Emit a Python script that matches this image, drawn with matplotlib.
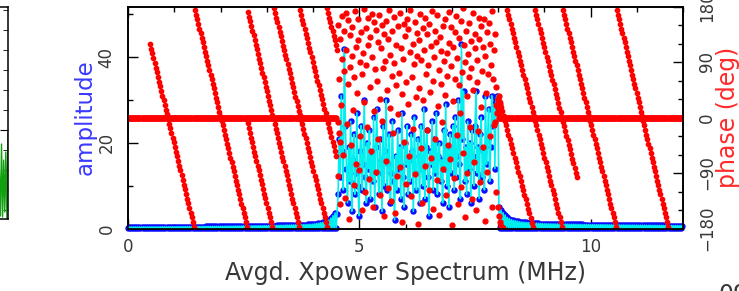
import numpy as np
import matplotlib
matplotlib.use("Agg")
import matplotlib.pyplot as plt
from matplotlib.ticker import MultipleLocator, FixedLocator

# ---------------- data ----------------
chan_step = 0.0225                      # MHz between channels
left_flat_end = 4.50
right_flat_start = 8.02
right_flat_end = 12.0
floor_amp = 0.05                        # alternate channels sit on the floor

env_left_f = [0.0, 1.0, 2.0, 3.0, 3.7, 4.0, 4.2, 4.35, 4.45, 4.50]
env_left_amp = [0.35, 0.4, 0.5, 0.65, 0.85, 1.0, 1.4, 2.0, 3.2, 4.0]
env_right_f = [8.02, 8.1, 8.2, 8.3, 8.5, 9.0, 10.0, 12.0]
env_right_amp = [5.0, 3.8, 2.6, 2.0, 1.5, 1.1, 0.9, 0.65]

noise_f_start, noise_f_end = 4.52, 8.00
amp_noise = [
    3.5, 8, 21, 12, 31, 18, 9, 42, 24, 14,
    6, 19, 11, 25, 4, 16, 22, 8, 13, 27,
    10, 3, 18, 24, 9, 15, 30, 12, 6, 20,
    14, 23, 7, 17, 11, 26, 5, 19, 28, 13,
    8, 21, 16, 4, 24, 10, 18, 30, 9, 15,
    22, 6, 13, 25, 11, 2, 17, 9, 23, 14,
    19, 7, 27, 12, 5, 20, 15, 24, 8, 16,
    11, 22, 18, 4, 26, 13, 9, 21, 17, 6,
    24, 14, 10, 28, 7, 19, 23, 12, 3, 18,
    15, 25, 9, 21, 13, 27, 8, 17, 20, 11,
    16, 6, 23, 14, 29, 10, 19, 5, 22, 13,
    18, 24, 9, 26, 12, 17, 30, 15, 7, 43,
    21, 32, 11, 19, 8, 25, 14, 20, 6, 23,
    17, 10, 24, 32, 13, 19, 7, 22, 26, 12,
    18, 9, 31, 15, 21, 28, 11, 19, 31, 24,
    29, 14, 30, 31, 28]

phase_noise = [
    150, -95, 62, 128, -140, 20, 165, 95, -60, 140, 75, -130, 170, 110, -10, 55, 158, -165, 82, 133,
    -45, 100, 147, 12, -110, 66, 172, 115, -75, 40, 125, 160, -85, 90, -30, 138, 70, -150, 105, 176,
    25, -120, 145, 85, -15, 162, 118, -100, 50, 130, -55, 98, 168, -145, 10, 155, 78, -88, 142, 60,
    -35, 122, 166, 30, -125, 112, 150, -5, 80, -160, 135, 92, -70, 157, 45, -115, 127, 174, 15, 102,
    -135, 68, 140, -25, 88, 163, -155, 52, 118, -95, 148, 5, 72, 170, -80, 113, 38, -170, 95, 152,
    -40, 132, 58, -108, 160, 22, 143, -62, 106, 175, -128, 65, 120, -18, 87, 155, -92, 33, 137, 100,
    -172, 48, 126, 168, -50, 93, -138, 145, 28, 110, -78, 161, 70, -20, 135, 85, -118, 152, 42, -65,
    116, 173, -148, 60, 98, 140, -35, 123, -102, 167, 18, 77, -158, 130, 55, 108, -8, 149, -83, 91,
    36, 159, -126, 104, 68, -45, 171, 121, -68, 84, 146, -175, 27, 114, -98, 62, 138, 164, -28, 97,
    -140, 52, 129, 8, 156, -112, 73, 177, -58, 118, 90, -162, 141, 35, -90, 103, 66, 153, -15, 124,
    80, -132, 169, 44, -72, 136, 112, -150, 58, 94, -22, 162, 128, -105, 17, 149, 76, -48, 115, 160,
    -168, 100, 40, 139, -88, 70, 154, -30, 120, 85, -145, 172, 63, -12, 110, 135, -120, 50, 20, 30]

edge_f = [4.54, 4.56, 4.58, 7.93, 7.95, 7.97, 7.99, 8.00, 8.02, 8.03, 8.05,
          8.00, 8.02, 8.04, 8.07, 8.10]
edge_phase = [-8, -25, -40, -8, 20, 8, 28, 15, 35, 5, 22,
              -145, -160, -170, -176, -179]

# linear phase ramps: (start MHz, start deg, end MHz, end deg)
ramp_f0 = [0.476, 1.449, 2.56, 2.595, 3.157, 3.719, 4.303, 8.04, 8.195, 8.80, 9.405, 10.573]
ramp_p0 = [119, 174, -2, 171, 177, 174, 177, 25, 174, 174, 174, 174]
ramp_f1 = [1.427, 2.573, 3.114, 3.697, 4.303, 4.50, 4.52, 8.757, 9.384, 9.708, 10.551, 11.676]
ramp_p1 = [-177, -177, -177, -177, -177, -62, 110, -178, -177, -97, -177, -177]
ramp_deg_per_dot = 7.5

# partial neighbouring panel (green trace)
green_x = [0.92, 0.93, 0.94, 0.95, 0.96, 0.97, 0.98, 0.99, 1.0]
green_y = [2.0, -0.3, 3.3, -0.35, 2.5, -0.1, 2.9, -0.45, 3.85]

# ---------------- build channel series ----------------
f_left = np.arange(0.0, left_flat_end + 1e-9, chan_step)
f_right = np.arange(right_flat_start, right_flat_end + 1e-9, chan_step)
amp_left = np.where(np.arange(len(f_left)) % 2 == 0, floor_amp,
                    np.interp(f_left, env_left_f, env_left_amp))
amp_right = np.where(np.arange(len(f_right)) % 2 == 1, floor_amp,
                     np.interp(f_right, env_right_f, env_right_amp))
f_noise = np.linspace(noise_f_start, noise_f_end, len(amp_noise))
f_all = np.concatenate([f_left, f_noise, f_right])
amp_all = np.concatenate([amp_left, np.array(amp_noise, float), amp_right])

# ---------------- figure ----------------
W, H = 739, 291
fig = plt.figure(figsize=(W / 100, H / 100), dpi=100)
txt = "#383838"
plt.rcParams["font.family"] = ["DejaVu Sans"]

# neighbouring (cut-off) panel on the far left
ax0 = fig.add_axes([-100 / W, 1 - 219 / H, 108 / W, 212 / H])
ax0.set_xlim(0, 1)
ax0.set_ylim(-0.45, 10.15)
ax0.plot(green_x, green_y, color="#10a010", lw=1.0)
ax0.yaxis.set_major_locator(FixedLocator([4]))
ax0.yaxis.set_minor_locator(MultipleLocator(1))
ax0.tick_params(axis="y", which="both", direction="in", left=False, right=True,
                labelleft=False, labelright=False)
ax0.tick_params(axis="y", which="major", length=6)
ax0.tick_params(axis="y", which="minor", length=3.5)
ax0.set_xticks([])
for s in ax0.spines.values():
    s.set_linewidth(1.1)

# main panel
ax = fig.add_axes([128 / W, 1 - 228.5 / H, 555 / W, 222 / H])
ax.set_xlim(0, 12)
ax.set_ylim(0, 51.8)
ax.plot(f_all, amp_all, ls="none", marker="o", ms=3.6, color="#0a0aff",
        mec="#0a0aff", clip_on=False, zorder=2)
ax.plot(f_all, amp_all, "-", color="#00f0f0", lw=1.2, clip_on=False, zorder=3)

ax2 = ax.twinx()
ax2.set_ylim(-180, 180)
red = "#ff0000"
ms_red = 3.1
ax2.plot(f_left, np.zeros_like(f_left), ls="none", marker="o", ms=3.6, color=red, mec=red)
ax2.plot(f_right, np.zeros_like(f_right), ls="none", marker="o", ms=3.6, color=red, mec=red)
for f0, p0, f1, p1 in zip(ramp_f0, ramp_p0, ramp_f1, ramp_p1):
    n = int(round(abs(p1 - p0) / ramp_deg_per_dot)) + 1
    ax2.plot(np.linspace(f0, f1, n), np.linspace(p0, p1, n), ls="none",
             marker="o", ms=ms_red, color=red, mec=red)
f_pn = np.linspace(noise_f_start + 0.01, noise_f_end - 0.01, len(phase_noise))
ax2.plot(f_pn, phase_noise, ls="none", marker="o", ms=3.5, color=red, mec=red)
ax2.plot(edge_f, edge_phase, ls="none", marker="o", ms=3.5, color=red, mec=red)

# ticks
ax.xaxis.set_major_locator(MultipleLocator(5))
ax.xaxis.set_minor_locator(MultipleLocator(1))
ax.yaxis.set_major_locator(MultipleLocator(20))
ax.yaxis.set_minor_locator(MultipleLocator(10))
ax2.yaxis.set_major_locator(MultipleLocator(90))
ax2.yaxis.set_minor_locator(MultipleLocator(30))
ax.tick_params(axis="both", which="both", direction="in", top=True, right=False,
               width=1.0, colors="black", labelcolor=txt, labelsize=12)
ax.tick_params(which="major", length=7)
ax.tick_params(which="minor", length=3.6)
ax.tick_params(axis="x", pad=7)
ax.tick_params(axis="y", labelrotation=90, pad=9)
ax2.tick_params(axis="y", which="both", direction="in", width=1.0,
                labelcolor=txt, labelsize=12, labelrotation=90, pad=11)
ax2.tick_params(which="major", length=7)
ax2.tick_params(which="minor", length=3.6)
for lab in ax.get_yticklabels() + ax2.get_yticklabels():
    lab.set_verticalalignment("center")
for s in list(ax.spines.values()) + list(ax2.spines.values()):
    s.set_linewidth(1.2)

# axis titles
fig.text(405.5 / W, 1 - 273 / H, "Avgd. Xpower Spectrum (MHz)", ha="center",
         va="center", fontsize=17, color=txt)
fig.text(85 / W, 1 - 117.5 / H, "amplitude", rotation=90, ha="center",
         va="center", fontsize=16.5, color="#3a3aff")
fig.text(728 / W, 1 - 117 / H, "phase (deg)", rotation=90, ha="center",
         va="center", fontsize=17, color="#ff2a2a")
fig.text(718 / W, 1 - 283 / H, "09", ha="left", va="top", fontsize=17, color=txt)

fig.savefig("out.png", dpi=100)
